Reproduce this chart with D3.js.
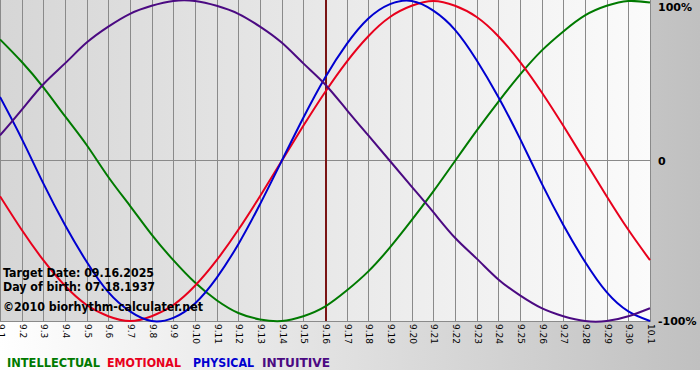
<!DOCTYPE html>
<html>
<head>
<meta charset="utf-8">
<script src="https://cdn.jsdelivr.net/npm/d3@7"></script>
<style>
  body { margin: 0; background: #fff; }
  svg { display: block; font-family: "DejaVu Sans", Verdana, sans-serif; }
</style>
</head>
<body>
<div id="chart"></div>
<script>
// days shown on the x axis (Sep 1 .. Oct 1)
var days = ["9.1","9.2","9.3","9.4","9.5","9.6","9.7","9.8","9.9","9.10",
  "9.11","9.12","9.13","9.14","9.15","9.16","9.17","9.18","9.19","9.20",
  "9.21","9.22","9.23","9.24","9.25","9.26","9.27","9.28","9.29","9.30","10.1"];

// cycle values per day (-1 .. 1)
var physical = [0.40, 0.14, -0.14, -0.40, -0.63, -0.82, -0.94, -1.00, -0.98, -0.89,
  -0.73, -0.52, -0.27, 0.00, 0.27, 0.52, 0.73, 0.89, 0.98, 1.00,
  0.94, 0.82, 0.63, 0.40, 0.14, -0.14, -0.40, -0.63, -0.82, -0.94, -1.00];
var emotional = [-0.22, -0.43, -0.62, -0.78, -0.90, -0.97, -1.00, -0.97, -0.90, -0.78,
  -0.62, -0.43, -0.22, 0.00, 0.22, 0.43, 0.62, 0.78, 0.90, 0.97,
  1.00, 0.97, 0.90, 0.78, 0.62, 0.43, 0.22, 0.00, -0.22, -0.43, -0.62];
var intellectual = [0.76, 0.62, 0.46, 0.28, 0.10, -0.10, -0.28, -0.46, -0.62, -0.76,
  -0.87, -0.95, -0.99, -1.00, -0.97, -0.91, -0.81, -0.69, -0.54, -0.37,
  -0.19, 0.00, 0.19, 0.37, 0.54, 0.69, 0.81, 0.91, 0.97, 1.00, 0.99];
var intuitive = [0.16, 0.32, 0.48, 0.61, 0.74, 0.84, 0.92, 0.97, 1.00, 1.00,
  0.97, 0.92, 0.84, 0.74, 0.61, 0.48, 0.32, 0.16, 0.00, -0.16,
  -0.32, -0.48, -0.61, -0.74, -0.84, -0.92, -0.97, -1.00, -1.00, -0.97, -0.92];

var targetDay = "9.16";
var yTicks = [1, 0, -1];
var yTickLabels = ["100%", "0", "-100%"];
var infoLines = ["Target Date: 09.16.2025", "Day of birth: 07.18.1937", "\u00a92010 biorhythm-calculater.net"];

var series = [
  {name: "INTELLECTUAL", values: intellectual, color: "#007a00"},
  {name: "EMOTIONAL", values: emotional, color: "#e8001c"},
  {name: "PHYSICAL", values: physical, color: "#0000d0"},
  {name: "INTUITIVE", values: intuitive, color: "#4b0a82"}
];

var W = 700, H = 380;
var pw = 651, ph = 321;

var svg = d3.select("#chart").append("svg")
  .attr("width", W)
  .attr("height", H);

var defs = svg.append("defs");
var outerGrad = defs.append("linearGradient").attr("id", "outerGrad")
  .attr("x1", "0%").attr("x2", "100%").attr("y1", "0%").attr("y2", "0%");
outerGrad.append("stop").attr("offset", "0%").attr("stop-color", "#ffffff");
outerGrad.append("stop").attr("offset", "100%").attr("stop-color", "#c0c0c0");

var plotGrad = defs.append("linearGradient").attr("id", "plotGrad")
  .attr("x1", "0%").attr("x2", "100%").attr("y1", "0%").attr("y2", "0%");
plotGrad.append("stop").attr("offset", "0%").attr("stop-color", "#d6d6d6");
plotGrad.append("stop").attr("offset", "100%").attr("stop-color", "#fbfbfb");

// backgrounds
svg.append("rect").attr("width", W).attr("height", 370).attr("fill", "url(#outerGrad)");
svg.append("rect").attr("width", pw).attr("height", ph).attr("fill", "url(#plotGrad)");

var x = d3.scalePoint().domain(days).range([0, 650]);
var y = d3.scaleLinear().domain([-1, 1]).range([321, 1]);

var crisp = function(v) { return Math.round(v) + 0.5; };

// vertical grid
svg.append("g").selectAll("line")
  .data(days)
  .enter().append("line")
  .attr("x1", function(d) { return crisp(x(d)); })
  .attr("x2", function(d) { return crisp(x(d)); })
  .attr("y1", 0)
  .attr("y2", ph + 1)
  .attr("stroke", "#8a8a8a")
  .attr("stroke-width", 1);

// zero line and bottom line
svg.append("line")
  .attr("x1", 0).attr("x2", pw)
  .attr("y1", crisp(y(0)) - 1).attr("y2", crisp(y(0)) - 1)
  .attr("stroke", "#8a8a8a");
svg.append("line")
  .attr("x1", 0).attr("x2", pw)
  .attr("y1", ph + 0.5).attr("y2", ph + 0.5)
  .attr("stroke", "#8a8a8a");

// target day marker
svg.append("line")
  .attr("x1", x(targetDay) + 1).attr("x2", x(targetDay) + 1)
  .attr("y1", 0).attr("y2", ph)
  .attr("stroke", "#7a1414")
  .attr("stroke-width", 2);

// curves
var line = d3.line()
  .x(function(d, i) { return x(days[i]); })
  .y(function(d) { return y(d); })
  .curve(d3.curveNatural);

svg.append("g").selectAll("path")
  .data(series)
  .enter().append("path")
  .attr("d", function(s) { return line(s.values); })
  .attr("fill", "none")
  .attr("stroke", function(s) { return s.color; })
  .attr("stroke-width", 2);

// x tick labels, rotated
svg.append("g").selectAll("text")
  .data(days)
  .enter().append("text")
  .attr("transform", function(d) { return "translate(" + (x(d) + 1) + ",324) rotate(90)"; })
  .attr("dy", "0.35em")
  .style("font-size", "9px")
  .attr("fill", "#000")
  .text(function(d) { return d; });

// y labels on the right
svg.append("g").selectAll("text")
  .data(yTicks)
  .enter().append("text")
  .attr("x", 658)
  .attr("y", function(d) { return Math.min(Math.max(y(d), 7), 322); })
  .attr("dy", "0.35em")
  .style("font-size", "11px")
  .style("font-weight", "bold")
  .attr("fill", "#000")
  .text(function(d, i) { return yTickLabels[i]; });

// info text
var infoY = [277, 291, 311];
var infoW = [151, 152, 200];
svg.append("g").selectAll("text")
  .data(infoLines)
  .enter().append("text")
  .attr("x", 3)
  .attr("y", function(d, i) { return infoY[i]; })
  .attr("textLength", function(d, i) { return infoW[i]; })
  .attr("lengthAdjust", "spacingAndGlyphs")
  .style("font-size", "12px")
  .style("font-weight", "bold")
  .attr("fill", "#000")
  .text(function(d) { return d; });

// legend
var legendX = [7, 107, 193, 262];
var legendW = [93, 74, 61, 68];
svg.append("g").selectAll("text")
  .data(series)
  .enter().append("text")
  .attr("x", function(d, i) { return legendX[i]; })
  .attr("y", 367)
  .attr("textLength", function(d, i) { return legendW[i]; })
  .attr("lengthAdjust", "spacingAndGlyphs")
  .style("font-size", "13px")
  .style("font-weight", "bold")
  .attr("fill", function(d) { return d.color; })
  .text(function(d) { return d.name; });
</script>
</body>
</html>
